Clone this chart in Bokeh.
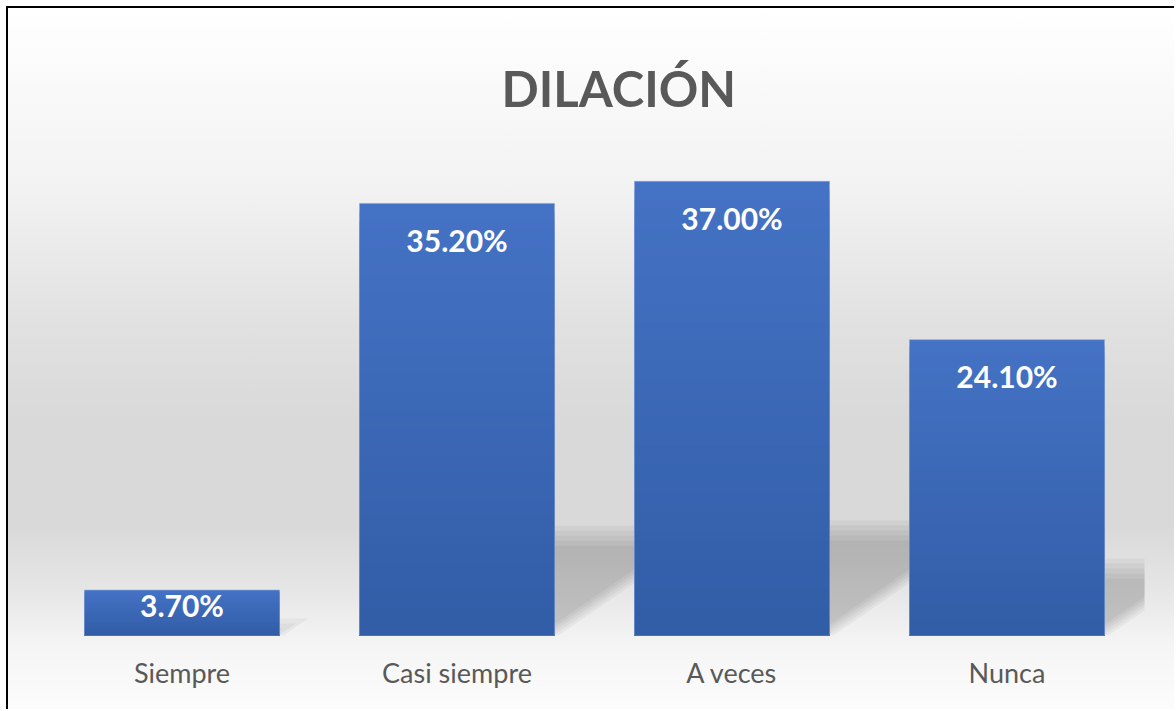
import numpy as np
from bokeh.plotting import figure
from bokeh.models import FactorRange, Range1d, ColumnDataSource, Title
from bokeh.core.properties import value
from bokeh.embed import file_html
from bokeh.resources import INLINE

# ---- data ----
categories = ["Siempre", "Casi siempre", "A veces", "Nunca"]
percentages = [3.7, 35.2, 37.0, 24.1]
value_labels = ["3.70%", "35.20%", "37.00%", "24.10%"]
title_text = "DILACIÓN"

# ---- styling / layout constants ----
W, H = 1168, 703
ML, MR, MT, MB = 36, 32, 136, 76
Y_MAX = 40.0
BAR_W = 0.709
TOP_RGB = np.array([69, 115, 197])
BOT_RGB = np.array([50, 93, 167])

p = figure(
    width=W, height=H,
    x_range=FactorRange(*categories, range_padding=0),
    y_range=Range1d(0, Y_MAX),
    output_backend="svg", toolbar_location=None,
    min_border_left=ML, min_border_right=MR, min_border_top=MT, min_border_bottom=MB,
)
p.title = None
p.add_layout(Title(text=title_text, align="left", offset=457, text_font="Lato",
                   text_font_size="49px", text_font_style="bold",
                   text_color="#595959", standoff=55), "above")

p.border_fill_alpha = 0
p.background_fill_alpha = 0
p.outline_line_color = None
p.styles = {
    "margin-left": "6px",
    "margin-top": "6px",
    "border-top": "2px solid #000",
    "border-left": "2px solid #000",
    "background": ("linear-gradient(to bottom, #FFFFFF 0%, #F2F2F2 26%, #E1E1E1 45%, "
                   "#D9D9D9 59%, #D9D9D9 74%, #E6E6E6 83%, #F5F5F5 91%, #FCFCFC 100%)"),
}

p.xgrid.visible = False
p.ygrid.visible = False
p.yaxis.visible = False
ax = p.xaxis[0]
ax.axis_line_color = None
ax.major_tick_line_color = None
ax.minor_tick_line_color = None
ax.major_label_text_font = "Lato"
ax.major_label_text_font_size = "27px"
ax.major_label_text_color = "#595959"
ax.major_label_standoff = 14

# ---- perspective shadows (derived from values) ----
frame_w = W - ML - MR
frame_h = H - MT - MB
px_x = frame_w / len(categories)      # px per x unit
px_y = frame_h / Y_MAX                # px per y unit
for k in range(5):
    xs, ys = [], []
    for i, v in enumerate(percentages):
        c = i + 0.5
        L, R = c - BAR_W / 2, c + BAR_W / 2
        sh = 0.24 * v + 6 / px_y - k * 5 / px_y
        if sh <= 0:
            continue
        dx = 1.45 * sh * px_y / px_x
        r_in = (k * 5 - 4) / px_x
        xs.append([L, R - r_in, R - r_in + dx, L + dx])
        ys.append([0, 0, sh, sh])
    p.patches(xs, ys, fill_color="black", fill_alpha=0.04, line_color=None)

# ---- bars with vertical gradient (overlapping layers, tallest first) ----
N = 48
seg_x, seg_top, seg_col = [], [], []
for k in range(N - 1, -1, -1):
    t = (k + 0.5) / N
    rgb = (BOT_RGB + (TOP_RGB - BOT_RGB) * t).astype(int)
    for i, v in enumerate(percentages):
        seg_x.append(categories[i])
        seg_top.append(v * (k + 1) / N)
        seg_col.append("#%02x%02x%02x" % tuple(rgb))
p.vbar(x=seg_x, bottom=0, top=seg_top, width=BAR_W,
       fill_color=seg_col, line_color=None)
p.vbar(x=categories, top=percentages, width=BAR_W, fill_alpha=0,
       line_color="#8AA3D6", line_alpha=0.6, line_width=1)

# ---- value labels ----
vals = np.array(percentages)
label_y = vals - np.minimum(3.0, 0.33 * vals)
src = ColumnDataSource(dict(x=categories, y=label_y, t=value_labels))
p.text(x="x", y="y", text="t", source=src, text_align="center",
       text_baseline="middle", text_font=value("Lato"), text_font_size="30px",
       text_font_style="bold", text_color="white")

open("out.html", "w").write(file_html(p, INLINE))
